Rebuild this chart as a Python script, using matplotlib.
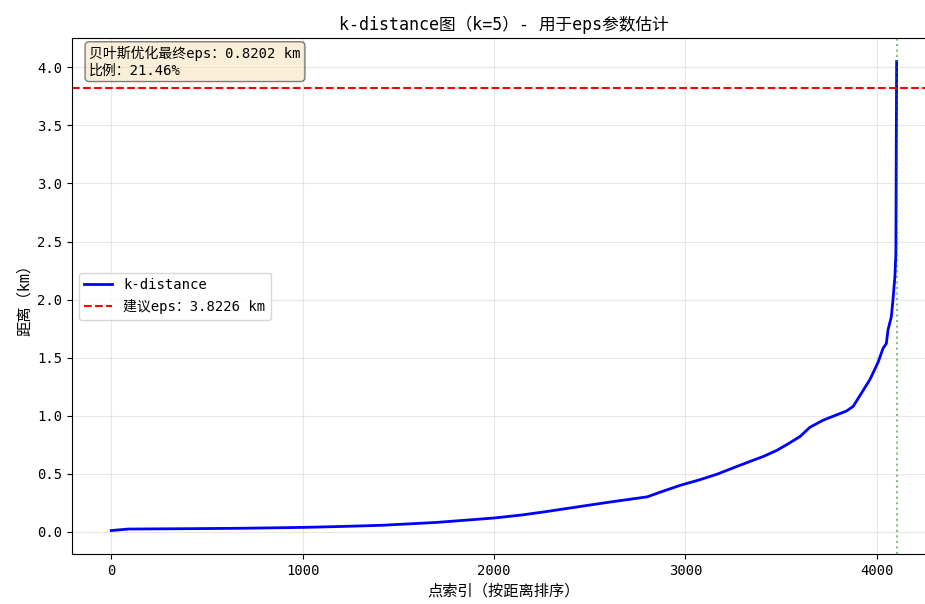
import numpy as np
import matplotlib
matplotlib.use('Agg')
import matplotlib.pyplot as plt

plt.rcParams['font.family'] = ['DejaVu Sans Mono', 'Noto Sans CJK SC']
plt.rcParams['axes.unicode_minus'] = False

# sorted k-distance values (k=5), sampled along the point index
point_index = [0, 90, 400, 700, 1000, 1200, 1411, 1700, 2000, 2150, 2280,
               2453, 2625, 2800, 2885, 2974, 3070, 3165, 3250, 3339, 3410,
               3477, 3540, 3599, 3651, 3719, 3780, 3842, 3877, 3911, 3964,
               4007, 4033, 4050, 4059, 4076, 4085, 4095, 4100, 4102, 4104]
k_distance = [0.010, 0.023, 0.026, 0.030, 0.037, 0.045, 0.055, 0.080, 0.118,
              0.145, 0.175, 0.218, 0.260, 0.300, 0.350, 0.400, 0.445, 0.495,
              0.550, 0.606, 0.650, 0.700, 0.760, 0.820, 0.900, 0.960, 1.000,
              1.040, 1.080, 1.170, 1.310, 1.460, 1.580, 1.620, 1.740, 1.850,
              2.000, 2.200, 2.400, 3.300, 4.050]

suggested_eps = 3.8226
bayes_eps = 0.8202
bayes_ratio = 21.46
knee_index = 4104

fig = plt.figure(figsize=(9.25, 6.04), dpi=100)
ax = fig.add_axes([0.0778, 0.0828, 0.934, 0.854])

ax.plot(point_index, k_distance, 'b-', linewidth=2, label='k-distance')
ax.axhline(y=suggested_eps, color='r', linestyle='--', linewidth=1.5,
           label=f'建议eps：{suggested_eps:.4f} km')
ax.axvline(x=knee_index, color='g', linestyle=':', alpha=0.5)

ax.set_title('k-distance图（k=5）- 用于eps参数估计', fontsize=12)
ax.set_xlabel('点索引（按距离排序）', fontsize=11)
ax.set_ylabel('距离（km）', fontsize=11)
ax.grid(True, alpha=0.3)
ax.legend(loc='center left', fontsize=10)

ax.text(0.02, 0.985, f'贝叶斯优化最终eps：{bayes_eps:.4f} km\n比例：{bayes_ratio:.2f}%',
        transform=ax.transAxes, fontsize=10, va='top',
        bbox=dict(boxstyle='round', facecolor='wheat', alpha=0.5))

fig.savefig('out.png', dpi=100)
